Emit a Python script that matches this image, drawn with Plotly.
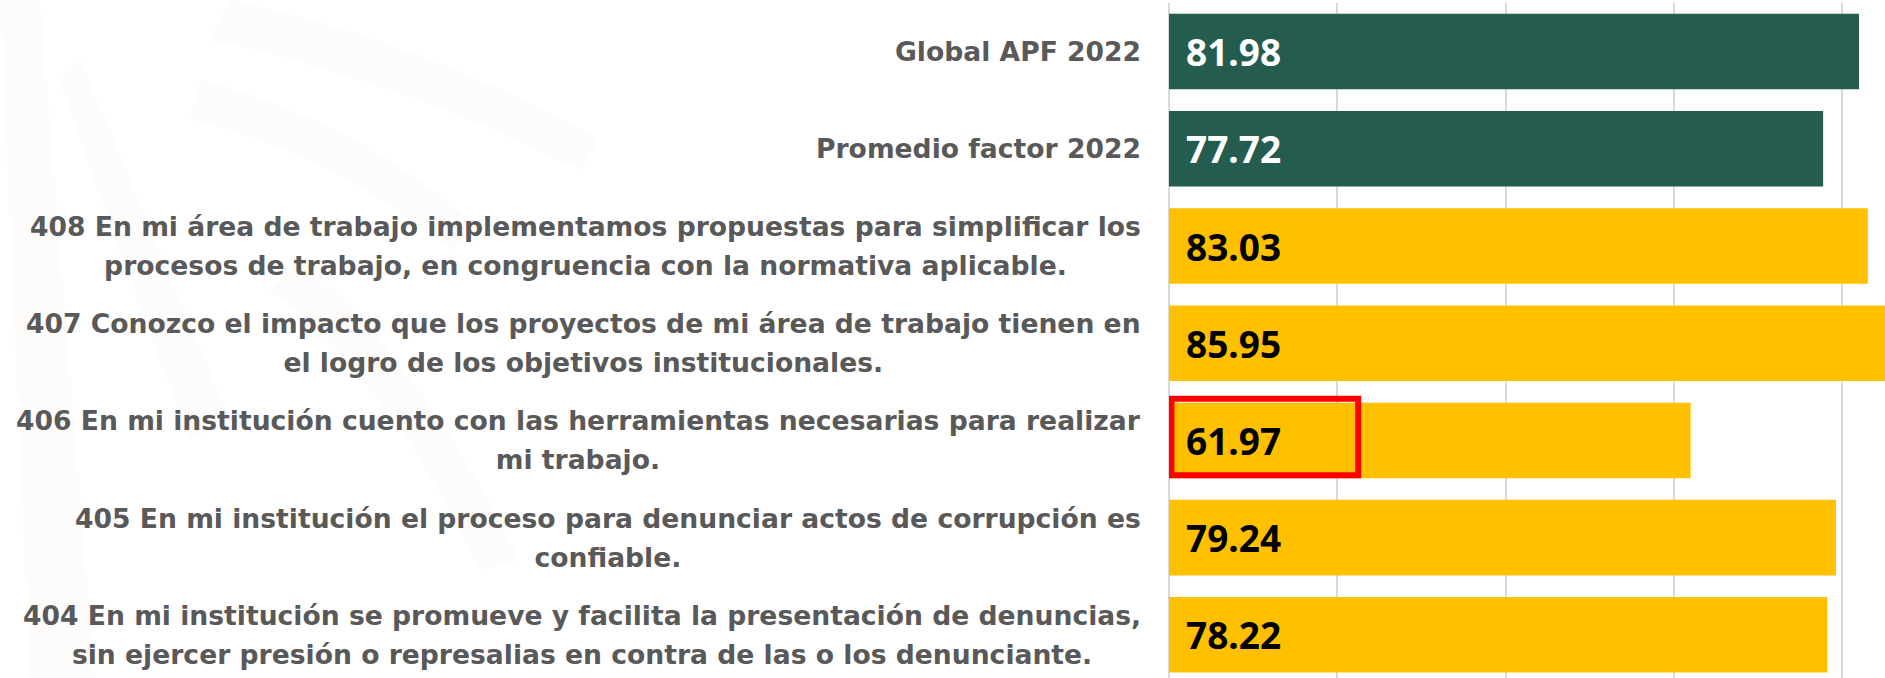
import plotly.graph_objects as go

# Survey items (top to bottom) and their scores
categories = [
    "Global APF 2022",
    "Promedio factor 2022",
    "408 En mi área de trabajo implementamos propuestas para simplificar los<br>procesos de trabajo, en congruencia con la normativa aplicable.",
    "407 Conozco el impacto que los proyectos de mi área de trabajo tienen en<br>el logro de los objetivos institucionales.",
    "406 En mi institución cuento con las herramientas necesarias para realizar<br>mi trabajo.",
    "405 En mi institución el proceso para denunciar actos de corrupción es<br>confiable.",
    "404 En mi institución se promueve y facilita la presentación de denuncias,<br>sin ejercer presión o represalias en contra de las o los denunciante.",
]
values = [81.98, 77.72, 83.03, 85.95, 61.97, 79.24, 78.22]
is_reference = [True, True, False, False, False, False, False]
highlighted = 4  # item 406, the lowest score

GREEN = "#245C4F"
GOLD = "#FFC000"
LABEL_GRAY = "#595959"
# the annotation font size drives the line spacing; the glyphs are drawn smaller
LABEL_FONT = dict(family="DejaVu Sans", size=30, color=LABEL_GRAY, weight="bold")
LABEL_GLYPH_PX = 26.6

positions = list(range(len(categories)))
bar_colors = [GREEN if r else GOLD for r in is_reference]

fig = go.Figure()
fig.add_trace(go.Bar(
    x=values,
    y=positions,
    orientation="h",
    marker=dict(color=bar_colors, line=dict(width=0)),
    hoverinfo="skip",
    showlegend=False,
))


def sized(label):
    return "<br>".join(
        f"<span style='font-size:{LABEL_GLYPH_PX}px'>{line}</span>" for line in label.split("<br>")
    )


annotations = []
for pos, label, val, ref in zip(positions, categories, values, is_reference):
    # category label left of the axis
    annotations.append(dict(
        x=0, y=pos, xref="x", yref="y", showarrow=False,
        text=sized(label),
        xanchor="right", yanchor="middle", align="center",
        xshift=-26, font=LABEL_FONT,
    ))
    # value label at the start of the bar
    annotations.append(dict(
        x=0, y=pos, xref="x", yref="y",
        text=f"{val:.2f}", showarrow=False,
        xanchor="left", yanchor="middle",
        xshift=15,
        font=dict(family="Noto Sans", size=37, color="white" if ref else "black", weight="bold"),
    ))

# faint decorative background strokes on the left, in page pixels
W, H = 1885, 678
L_MARGIN, T_MARGIN = 1169, 3
stroke_paths = [
    "M 0 0 L 40 0 L 95 678 L 30 678 Z",
    "M 80 60 Q 140 200 230 420 L 190 440 Q 110 230 60 80 Z",
    "M 230 0 Q 420 40 600 140 L 580 170 Q 400 80 210 40 Z",
    "M 200 80 Q 360 120 480 230 L 450 250 Q 330 150 190 120 Z",
    "M 300 260 Q 420 360 520 560 L 480 570 Q 390 380 270 290 Z",
]


def to_paper(path):
    tokens = path.split()
    out = []
    i = 0
    while i < len(tokens):
        t = tokens[i]
        if t.isalpha():
            out.append(t)
            i += 1
        else:
            px, py = float(tokens[i]), float(tokens[i + 1])
            xp = (px - L_MARGIN) / (W - L_MARGIN)
            yp = 1 - (py - T_MARGIN) / (H - T_MARGIN)
            out.append(f"{xp:.5f},{yp:.5f}")
            i += 2
    return " ".join(out)


shapes = [
    dict(type="path", path=to_paper(p), xref="paper", yref="paper",
         fillcolor="rgba(215,200,170,0.05)", line=dict(width=0), layer="below")
    for p in stroke_paths
]

# red highlight box around the value of the lowest item
shapes.append(dict(
    type="rect", xref="x", yref="y",
    x0=0.3, x1=22.48,
    y0=highlighted - 0.429, y1=highlighted + 0.359,
    line=dict(color="#FF0000", width=6),
    fillcolor="rgba(0,0,0,0)",
    layer="above",
))

fig.update_layout(
    width=W, height=H,
    margin=dict(l=L_MARGIN, r=0, t=T_MARGIN, b=0, pad=0),
    paper_bgcolor="white",
    plot_bgcolor="rgba(0,0,0,0)",
    bargap=0.223,
    annotations=annotations,
    shapes=shapes,
    showlegend=False,
)

fig.update_xaxes(
    range=[0, 85.07],
    tick0=0, dtick=20,
    showgrid=True, gridcolor="#D9D9D9", gridwidth=2,
    zeroline=True, zerolinecolor="#D9D9D9", zerolinewidth=2,
    showticklabels=False, ticks="",
    showline=False,
    fixedrange=True,
)
fig.update_yaxes(
    range=[6.444, -0.5],
    showgrid=False, zeroline=False,
    showticklabels=False, ticks="",
    showline=False,
    fixedrange=True,
)

fig.write_html("out.html")
